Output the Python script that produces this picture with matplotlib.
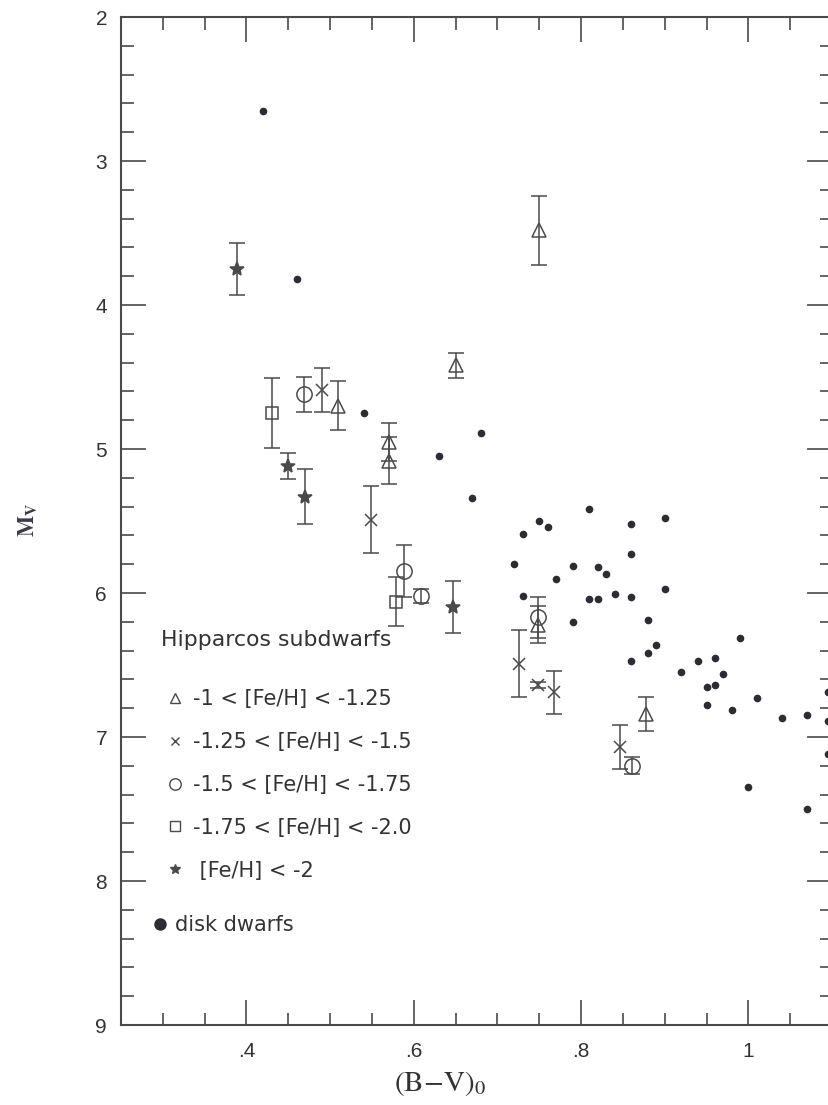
import matplotlib
matplotlib.use('Agg')
import matplotlib.pyplot as plt
from matplotlib.lines import Line2D
from matplotlib.ticker import FixedLocator, FixedFormatter, MultipleLocator, FormatStrFormatter

plt.rcParams['font.family'] = ['Liberation Sans', 'DejaVu Sans']
plt.rcParams['mathtext.fontset'] = 'stix'

# disk dwarfs: (B-V)0 and Mv
disk_bv = [0.42, 0.46, 0.54, 0.63, 0.68, 0.67, 0.81, 0.75, 0.76, 0.73, 0.86, 0.90,
           0.72, 0.86, 0.79, 0.82, 0.83, 0.77, 0.73, 0.81, 0.82, 0.84, 0.86, 0.90,
           0.79, 0.88, 0.99, 0.89, 0.88, 0.86, 0.94, 0.96, 0.92, 0.97, 0.95, 0.96,
           1.01, 0.95, 0.98, 1.04, 1.07, 1.00, 1.07, 1.095, 1.095, 1.095]
disk_mv = [2.65, 3.82, 4.75, 5.05, 4.89, 5.34, 5.42, 5.50, 5.54, 5.59, 5.52, 5.48,
           5.80, 5.73, 5.81, 5.82, 5.87, 5.90, 6.02, 6.04, 6.04, 6.01, 6.03, 5.97,
           6.20, 6.19, 6.31, 6.36, 6.42, 6.47, 6.47, 6.45, 6.55, 6.56, 6.65, 6.64,
           6.73, 6.78, 6.81, 6.87, 6.85, 7.35, 7.50, 6.69, 6.89, 7.12]

# Hipparcos subdwarfs, split by metallicity
tri_bv = [0.750, 0.650, 0.510, 0.570, 0.570, 0.748, 0.878]
tri_mv = [3.48, 4.42, 4.70, 4.95, 5.08, 6.22, 6.84]
tri_err = [0.24, 0.09, 0.17, 0.13, 0.16, 0.13, 0.12]

x_bv = [0.490, 0.549, 0.726, 0.748, 0.768, 0.847]
x_mv = [4.59, 5.49, 6.49, 6.64, 6.69, 7.07]
x_err = [0.15, 0.23, 0.23, 0.02, 0.15, 0.15]

circ_bv = [0.469, 0.588, 0.609, 0.748, 0.861]
circ_mv = [4.62, 5.85, 6.02, 6.17, 7.20]
circ_err = [0.12, 0.18, 0.05, 0.14, 0.06]

sq_bv = [0.430, 0.579]
sq_mv = [4.75, 6.06]
sq_err = [0.24, 0.17]

star_bv = [0.389, 0.450, 0.470, 0.647]
star_mv = [3.75, 5.12, 5.33, 6.10]
star_err = [0.18, 0.09, 0.19, 0.18]

groups = [
    (tri_bv, tri_mv, tri_err, '^', 10, '-1 < [Fe/H] < -1.25'),
    (x_bv, x_mv, x_err, 'x', 8, '-1.25 < [Fe/H] < -1.5'),
    (circ_bv, circ_mv, circ_err, 'o', 11, '-1.5 < [Fe/H] < -1.75'),
    (sq_bv, sq_mv, sq_err, 's', 9, '-1.75 < [Fe/H] < -2.0'),
    (star_bv, star_mv, star_err, '*', 10, ' [Fe/H] < -2'),
]

ink = '#4a4a4a'
dot = '#2c2c34'
txt = '#333333'
key_font = ['DejaVu Sans']

W, H = 829, 1105
fig = plt.figure(figsize=(W / 100, H / 100), dpi=100)
ax = fig.add_axes([121 / W, (H - 1025) / H, (832 - 121) / W, (1025 - 17) / H])

ax.plot(disk_bv, disk_mv, 'o', ms=5.5, color=dot, mec='none', zorder=3)

for bv, mv, err, mk, ms, lab in groups:
    filled = mk == '*'
    ax.errorbar(bv, mv, yerr=err, fmt=mk, ms=ms, mew=1.1,
                mfc=ink if filled else 'none', mec=ink,
                ecolor=ink, elinewidth=1.1, capsize=6, capthick=1.1, zorder=4)

ax.set_xlim(0.25, 1.1)
ax.set_ylim(9, 2)

ax.xaxis.set_major_locator(FixedLocator([0.4, 0.6, 0.8, 1.0]))
ax.xaxis.set_major_formatter(FixedFormatter(['.4', '.6', '.8', '1']))
ax.xaxis.set_minor_locator(MultipleLocator(0.05))
ax.yaxis.set_major_locator(MultipleLocator(1))
ax.yaxis.set_major_formatter(FormatStrFormatter('%d'))
ax.yaxis.set_minor_locator(MultipleLocator(0.2))

ax.tick_params(which='both', direction='in', top=True, right=True,
               color=ink, width=1.2, labelcolor=txt, labelsize=15,
               labelfontfamily='Liberation Sans')
ax.tick_params(which='major', length=18)
ax.tick_params(which='minor', length=9)
ax.tick_params(axis='x', pad=12)
ax.tick_params(axis='y', pad=10)
for sp in ax.spines.values():
    sp.set_color(ink)
    sp.set_linewidth(1.5)

ax.set_xlabel(r'$\mathrm{(B{-}V)_0}$', fontsize=21, color=txt)
ax.xaxis.set_label_coords((440 - 121) / 711, -(1069 - 1025) / 1008)
ax.set_ylabel(r'$\mathbf{M_V}$', fontsize=16, color='#3a3a48')
ax.yaxis.label.set_va('center')
ax.yaxis.set_label_coords(-(121 - 28) / 711, (1025 - 520) / 1008)

# key
ax.text((161 - 121) / 711, (1025 - 640) / 1008, 'Hipparcos subdwarfs',
        transform=ax.transAxes, ha='left', va='center', fontsize=15.8,
        family=key_font, color=txt)

handles = [Line2D([], [], ls='none', marker=g[3], ms=g[4] * 0.75, mew=1.0,
                  mfc=ink if g[3] == '*' else 'none', mec=ink) for g in groups]
leg = ax.legend(handles, [g[5] for g in groups], loc='upper left',
                bbox_to_anchor=((167 - 121) / 711, (1025 - 689) / 1008),
                frameon=False, prop={'family': key_font, 'size': 15},
                borderpad=0, borderaxespad=0,
                handlelength=0.8, handletextpad=0.45, labelspacing=1.1)
for t in leg.get_texts():
    t.set_color(txt)
ax.add_artist(leg)

disk_handle = Line2D([], [], ls='none', marker='o', ms=9, color=dot, mec='none')
leg2 = ax.legend([disk_handle], ['disk dwarfs'], loc='upper left',
                 bbox_to_anchor=((152 - 121) / 711, (1025 - 915) / 1008),
                 frameon=False, prop={'family': key_font, 'size': 15},
                 borderpad=0, borderaxespad=0,
                 handlelength=0.8, handletextpad=0.3)
for t in leg2.get_texts():
    t.set_color(txt)

fig.savefig('out.png', dpi=100)
